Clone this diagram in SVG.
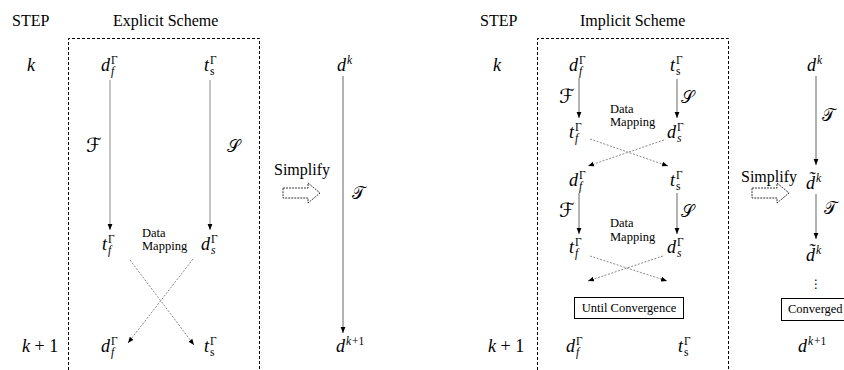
<svg xmlns="http://www.w3.org/2000/svg" width="844" height="370" viewBox="0 0 844 370">
<style>
.t{font-family:"Liberation Serif","Times New Roman",serif;font-size:16px;fill:#000}
.dm{font-family:"Liberation Serif","Times New Roman",serif;font-size:12.5px;fill:#000}
.bx{font-family:"Liberation Serif","Times New Roman",serif;font-size:12.5px;fill:#000}
.m{font-family:"Liberation Serif","Times New Roman",serif;font-size:18px;font-style:italic;fill:#000}
.s{font-size:11.5px}
.up{font-style:normal}
.cal{font-family:"DejaVu Serif","DejaVu Sans",serif;font-size:17px;font-style:normal;fill:#000}
.calF{font-size:20px}
.frame{fill:none;stroke:#000;stroke-width:1;stroke-dasharray:3 2}
.solid{stroke:#8a8a8a;stroke-width:1;fill:none}
.solid2{stroke:#666;stroke-width:1;fill:none}
.dot{stroke:#8a8a8a;stroke-width:1;stroke-dasharray:2 1.5;fill:none}
.hollow{fill:#fff;stroke:#000;stroke-width:0.8;stroke-dasharray:2 1}
.box{fill:#fff;stroke:#000;stroke-width:1}
</style>
<defs>
<marker id="ah" viewBox="0 0 10 10" refX="10" refY="5" markerWidth="6" markerHeight="6" orient="auto" markerUnits="userSpaceOnUse"><path d="M0,1 L10,5 L0,9 z" fill="#000"/></marker>
</defs>

<g id="headings">
<text class="t" x="12" y="26">STEP</text>
<text class="t" x="113" y="26">Explicit Scheme</text>
<text class="t" x="480" y="26">STEP</text>
<text class="t" x="580" y="26">Implicit Scheme</text>
</g>

<g id="frames">
<path class="frame" d="M68.5,380 V38.5 H259.5 V380"/>
<path class="frame" d="M537.5,380 V38.5 H728.5 V380"/>
</g>

<g id="connectors">
<line class="solid" x1="110" y1="80" x2="110" y2="230" marker-end="url(#ah)"/>
<line class="solid" x1="210" y1="80" x2="210" y2="230" marker-end="url(#ah)"/>
<line class="solid2" x1="343" y1="76" x2="343" y2="333" marker-end="url(#ah)"/>
<line class="dot" x1="130" y1="260" x2="194" y2="345" marker-end="url(#ah)"/>
<line class="dot" x1="193" y1="259" x2="128" y2="343" marker-end="url(#ah)"/>
<line class="solid2" x1="579" y1="78" x2="579" y2="118" marker-end="url(#ah)"/>
<line class="solid2" x1="677" y1="79" x2="677" y2="118" marker-end="url(#ah)"/>
<line class="solid2" x1="579" y1="193" x2="579" y2="234" marker-end="url(#ah)"/>
<line class="solid2" x1="677" y1="193" x2="677" y2="234" marker-end="url(#ah)"/>
<line class="dot" x1="590" y1="139" x2="668" y2="166" marker-end="url(#ah)"/>
<line class="dot" x1="664" y1="140" x2="588" y2="166" marker-end="url(#ah)"/>
<line class="dot" x1="590" y1="256" x2="667" y2="281" marker-end="url(#ah)"/>
<line class="dot" x1="663" y1="256" x2="588" y2="281" marker-end="url(#ah)"/>
<line class="solid2" x1="816" y1="76" x2="816" y2="165" marker-end="url(#ah)"/>
<line class="solid2" x1="816" y1="194" x2="816" y2="239" marker-end="url(#ah)"/>
</g>

<g id="simplify1">
<text class="t" x="274" y="175">Simplify</text>
<path class="hollow" d="M283,188 H308 V183 L320,193 L308,203 V198 H283 Z"/>
</g>
<g id="simplify2">
<text class="t" x="741" y="182">Simplify</text>
<path class="hollow" d="M752,188 H777 V183 L789,193 L777,203 V198 H752 Z"/>
</g>

<g id="ex-k"><text class="m" x="27" y="71">k</text></g>
<g id="ex-df-k"><text class="m"><tspan x="101" y="71">d</tspan><tspan class="s up" x="111" y="64">Γ</tspan><tspan class="s" x="111" y="75">f</tspan></text></g>
<g id="ex-ts-k"><text class="m"><tspan x="204" y="71">t</tspan><tspan class="s up" x="210" y="64">Γ</tspan><tspan class="s up" x="210" y="75">s</tspan></text></g>
<g id="ex-F"><text class="cal calF" x="86" y="152">ℱ</text></g>
<g id="ex-S"><text class="cal" x="227" y="152">𝒮</text></g>
<g id="ex-tf"><text class="m"><tspan x="102" y="250">t</tspan><tspan class="s up" x="108" y="243">Γ</tspan><tspan class="s" x="108" y="254">f</tspan></text></g>
<g id="ex-dm"><text class="dm"><tspan x="142" y="237">Data</tspan><tspan x="142" y="250">Mapping</tspan></text></g>
<g id="ex-ds"><text class="m"><tspan x="201" y="250">d</tspan><tspan class="s up" x="211" y="243">Γ</tspan><tspan class="s" x="211" y="254">s</tspan></text></g>
<g id="ex-k1"><text class="m" x="22" y="352">k<tspan class="up"> + 1</tspan></text></g>
<g id="ex-df-k1"><text class="m"><tspan x="101" y="352">d</tspan><tspan class="s up" x="111" y="345">Γ</tspan><tspan class="s" x="111" y="356">f</tspan></text></g>
<g id="ex-ts-k1"><text class="m"><tspan x="204" y="352">t</tspan><tspan class="s up" x="210" y="345">Γ</tspan><tspan class="s up" x="210" y="356">s</tspan></text></g>
<g id="ex-dk"><text class="m"><tspan x="337" y="71">d</tspan><tspan class="s" x="347" y="64">k</tspan></text></g>
<g id="ex-T"><text class="cal" x="352" y="199">𝒯</text></g>
<g id="ex-dk1"><text class="m"><tspan x="336" y="352">d</tspan><tspan class="s" x="346" y="345">k</tspan><tspan class="s up" dx="1">+1</tspan></text></g>

<g id="im-k"><text class="m" x="493" y="71">k</text></g>
<g id="im-df-1"><text class="m"><tspan x="569" y="71">d</tspan><tspan class="s up" x="579" y="64">Γ</tspan><tspan class="s" x="579" y="75">f</tspan></text></g>
<g id="im-ts-1"><text class="m"><tspan x="670" y="71">t</tspan><tspan class="s up" x="676" y="64">Γ</tspan><tspan class="s up" x="676" y="75">s</tspan></text></g>
<g id="im-F1"><text class="cal calF" x="559" y="103">ℱ</text></g>
<g id="im-S1"><text class="cal" x="681" y="103">𝒮</text></g>
<g id="im-dm1"><text class="dm"><tspan x="610" y="113">Data</tspan><tspan x="610" y="126">Mapping</tspan></text></g>
<g id="im-tf-2"><text class="m"><tspan x="569" y="138">t</tspan><tspan class="s up" x="575" y="131">Γ</tspan><tspan class="s" x="575" y="142">f</tspan></text></g>
<g id="im-ds-2"><text class="m"><tspan x="667" y="138">d</tspan><tspan class="s up" x="677" y="131">Γ</tspan><tspan class="s" x="677" y="142">s</tspan></text></g>
<g id="im-df-3"><text class="m"><tspan x="569" y="186">d</tspan><tspan class="s up" x="579" y="179">Γ</tspan><tspan class="s" x="579" y="190">f</tspan></text></g>
<g id="im-ts-3"><text class="m"><tspan x="670" y="186">t</tspan><tspan class="s up" x="676" y="179">Γ</tspan><tspan class="s up" x="676" y="190">s</tspan></text></g>
<g id="im-F2"><text class="cal calF" x="559" y="217">ℱ</text></g>
<g id="im-S2"><text class="cal" x="681" y="217">𝒮</text></g>
<g id="im-dm2"><text class="dm"><tspan x="610" y="227">Data</tspan><tspan x="610" y="241">Mapping</tspan></text></g>
<g id="im-tf-4"><text class="m"><tspan x="569" y="253">t</tspan><tspan class="s up" x="575" y="246">Γ</tspan><tspan class="s" x="575" y="257">f</tspan></text></g>
<g id="im-ds-4"><text class="m"><tspan x="667" y="253">d</tspan><tspan class="s up" x="677" y="246">Γ</tspan><tspan class="s" x="677" y="257">s</tspan></text></g>
<g id="im-until"><rect class="box" x="574.5" y="297.5" width="109" height="21"/><text class="bx" x="629" y="312" text-anchor="middle">Until Convergence</text></g>
<g id="im-k1"><text class="m" x="488" y="352">k<tspan class="up"> + 1</tspan></text></g>
<g id="im-df-k1"><text class="m"><tspan x="566" y="352">d</tspan><tspan class="s up" x="576" y="345">Γ</tspan><tspan class="s" x="576" y="356">f</tspan></text></g>
<g id="im-ts-k1"><text class="m"><tspan x="678" y="352">t</tspan><tspan class="s up" x="684" y="345">Γ</tspan><tspan class="s up" x="684" y="356">s</tspan></text></g>
<g id="im-dk"><text class="m"><tspan x="807" y="71">d</tspan><tspan class="s" x="817" y="64">k</tspan></text></g>
<g id="im-T1"><text class="cal" x="822" y="121">𝒯</text></g>
<g id="im-dt1"><text class="m"><tspan x="806" y="189">d̃</tspan><tspan class="s" x="816" y="182">k</tspan></text></g>
<g id="im-T2"><text class="cal" x="824" y="214">𝒯</text></g>
<g id="im-dt2"><text class="m"><tspan x="806" y="261">d̃</tspan><tspan class="s" x="816" y="254">k</tspan></text></g>
<g id="im-dots"><text x="816" y="288" text-anchor="middle" style="font-family:'DejaVu Sans',sans-serif;font-size:12px">⋮</text></g>
<g id="im-conv"><rect class="box" x="781.5" y="298.5" width="70" height="22"/><text class="bx" x="788" y="313">Converged</text></g>
<g id="im-dk1"><text class="m"><tspan x="798" y="352">d</tspan><tspan class="s" x="808" y="345">k</tspan><tspan class="s up" dx="1">+1</tspan></text></g>
</svg>
